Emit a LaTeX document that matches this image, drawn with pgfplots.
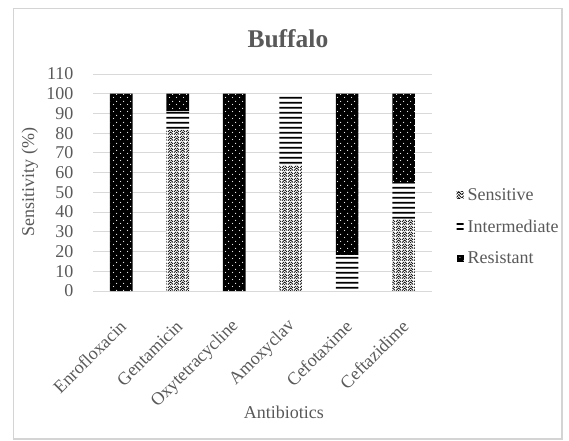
\documentclass[border=0pt]{standalone}
\usepackage{fontspec}
\setmainfont{Liberation Serif}
\usepackage{pgfplots}
\pgfplotsset{compat=1.18}
\usetikzlibrary{patterns}
\definecolor{txtgray}{RGB}{89,89,89}
\definecolor{gridgray}{RGB}{217,217,217}
\definecolor{framegray}{RGB}{212,212,212}

\pgfdeclarepatternformonly{weave}{\pgfqpoint{0pt}{0pt}}{\pgfqpoint{6pt}{6pt}}{\pgfqpoint{6pt}{6pt}}{%
  \pgfsetlinewidth{0.85pt}%
  \pgfpathmoveto{\pgfqpoint{0pt}{0.5pt}}\pgfpathlineto{\pgfqpoint{3pt}{3.5pt}}\pgfpathlineto{\pgfqpoint{6pt}{0.5pt}}%
  \pgfpathmoveto{\pgfqpoint{0pt}{3.5pt}}\pgfpathlineto{\pgfqpoint{2.5pt}{6pt}}%
  \pgfpathmoveto{\pgfqpoint{3.5pt}{6pt}}\pgfpathlineto{\pgfqpoint{6pt}{3.5pt}}%
  \pgfpathmoveto{\pgfqpoint{2.5pt}{0pt}}\pgfpathlineto{\pgfqpoint{3pt}{0.5pt}}\pgfpathlineto{\pgfqpoint{3.5pt}{0pt}}%
  \pgfusepath{stroke}}
\pgfdeclarepatternformonly{hl}{\pgfqpoint{0pt}{0pt}}{\pgfqpoint{160pt}{5.2pt}}{\pgfqpoint{160pt}{5.2pt}}{%
  \pgfpathrectangle{\pgfqpoint{0pt}{1.6pt}}{\pgfqpoint{160pt}{2pt}}\pgfusepath{fill}}
\pgfdeclarepatternformonly{wdots}{\pgfqpoint{0pt}{0pt}}{\pgfqpoint{6.6pt}{6.6pt}}{\pgfqpoint{6.6pt}{6.6pt}}{%
  \pgfpathcircle{\pgfqpoint{1.6pt}{1.6pt}}{0.55pt}%
  \pgfpathcircle{\pgfqpoint{4.9pt}{4.9pt}}{0.55pt}%
  \pgfusepath{fill}}

\begin{document}
\begin{tikzpicture}
\begin{axis}[
  at={(0,0)}, anchor=south west,
  scale only axis,
  width=339pt, height=217pt,
  ybar stacked,
  bar width=22.5pt,
  xmin=-0.5, xmax=5.5,
  ymin=0, ymax=110,
  ytick={0,10,...,110},
  xtick={0,1,2,3,4,5},
  xticklabels={Enrofloxacin,Gentamicin,Oxytetracycline,Amoxyclav,Cefotaxime,Ceftazidime},
  /pgf/number format/assume math mode=true,
  ymajorgrids,
  grid style={draw=gridgray, line width=1pt},
  axis line style={draw=none},
  major tick length=0pt,
  tick label style={font=\fontsize{18}{20}\selectfont, text=txtgray},
  yticklabel style={xshift=-16pt},
  xticklabel style={xshift=4pt, yshift=-30pt, rotate=45, anchor=east},
  ylabel={Sensitivity (\%)},
  xlabel={Antibiotics},
  label style={font=\fontsize{18}{20}\selectfont, text=txtgray},
  ylabel style={at={(axis description cs:-0.186,0.502)}, anchor=center},
  xlabel style={at={(axis description cs:0.563,-0.558)}, anchor=center},
  title={Buffalo},
  title style={at={(axis description cs:0.575,1.134)}, anchor=center, font=\fontsize{25.5}{28}\selectfont\bfseries, text=txtgray},
  legend style={at={(rel axis cs:1.063,0.295)}, anchor=west, draw=none, fill=none,
    font=\fontsize{18}{20}\selectfont, text=txtgray, row sep=16pt,
    nodes={inner sep=1pt},
    /tikz/every odd column/.append style={column sep=3pt}},
  legend cell align=left,
  legend image code/.code={\draw[#1, draw=none] (0pt,-3.5pt) rectangle (7pt,3.5pt);},
]
\addplot[draw=none, fill=white, postaction={pattern=weave, pattern color=black}]
  coordinates {(0,0) (1,81.8) (2,0) (3,63.9) (4,0) (5,36.6)};
\addplot[draw=none, fill=white, postaction={pattern=hl, pattern color=black}]
  coordinates {(0,0) (1,9.2) (2,0) (3,35.5) (4,18.2) (5,17.9)};
\addplot[draw=none, fill=black, postaction={pattern=wdots, pattern color=white}]
  coordinates {(0,100) (1,9.0) (2,100) (3,0) (4,81.8) (5,45.5)};
\legend{Sensitive,Intermediate,Resistant}
\end{axis}
\draw[framegray, line width=1.2pt] (-79.5pt,-148pt) rectangle (469pt,282.5pt);
\pgfresetboundingbox
\path[use as bounding box] (-93pt,-149pt) rectangle (476pt,291pt);
\end{tikzpicture}
\end{document}
